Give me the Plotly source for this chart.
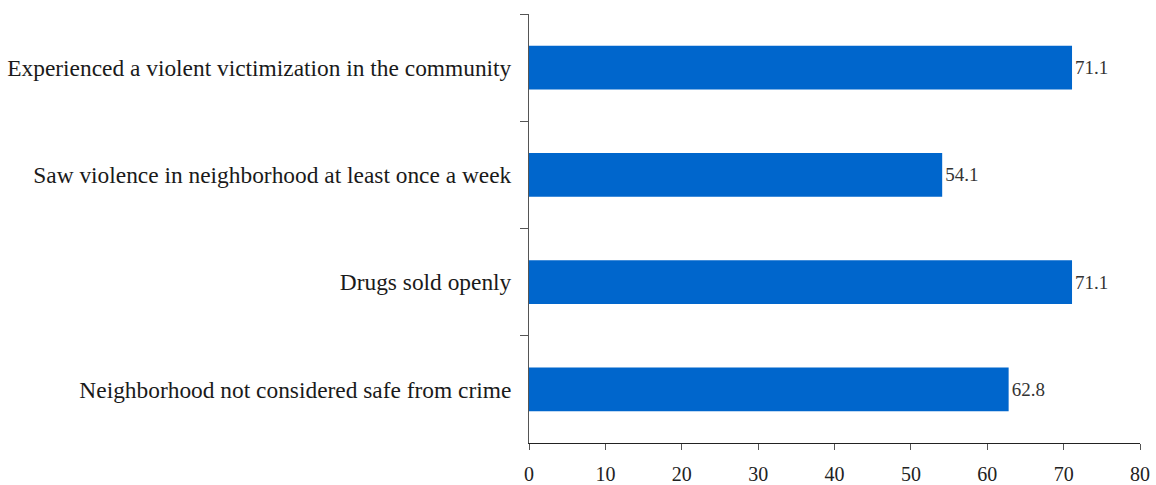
import plotly.graph_objects as go

categories = [
    "Experienced a violent victimization in the community",
    "Saw violence in neighborhood at least once a week",
    "Drugs sold openly",
    "Neighborhood not considered safe from crime",
]
values = [71.1, 54.1, 71.1, 62.8]
x_ticks = [0, 10, 20, 30, 40, 50, 60, 70, 80]

font_family = "Liberation Serif, Times New Roman, serif"

fig = go.Figure(
    go.Bar(
        y=categories,
        x=values,
        orientation="h",
        marker=dict(color="#0066CC", line=dict(width=0)),
        width=0.41,
        text=[f"{v:.1f}" for v in values],
        textposition="outside",
        textfont=dict(family=font_family, size=19, color="#333333"),
        cliponaxis=False,
    )
)

fig.update_layout(
    width=1156,
    height=485,
    margin=dict(l=529, r=16, t=14, b=42, autoexpand=False),
    plot_bgcolor="white",
    paper_bgcolor="white",
    showlegend=False,
    font=dict(family=font_family, color="#222222"),
)

fig.update_xaxes(
    range=[0, 80],
    tickvals=x_ticks,
    ticktext=[str(t) for t in x_ticks],
    showgrid=False,
    zeroline=False,
    showline=True,
    linecolor="#222222",
    linewidth=1,
    ticks="outside",
    ticklen=6,
    tickcolor="#555555",
    ticklabelstandoff=7,
    automargin=False,
    tickfont=dict(family=font_family, size=20, color="#222222"),
)

fig.update_yaxes(
    autorange="reversed",
    showgrid=False,
    zeroline=False,
    showline=True,
    linecolor="#555555",
    linewidth=1,
    ticks="outside",
    tickson="boundaries",
    ticklen=8,
    tickcolor="#555555",
    ticklabelstandoff=12,
    automargin=False,
    tickfont=dict(family=font_family, size=23.4, color="#1a1a1a"),
)

fig.write_html(
    "out.html",
    config={"displayModeBar": False},
    post_script="document.body.style.margin='0px';",
)
